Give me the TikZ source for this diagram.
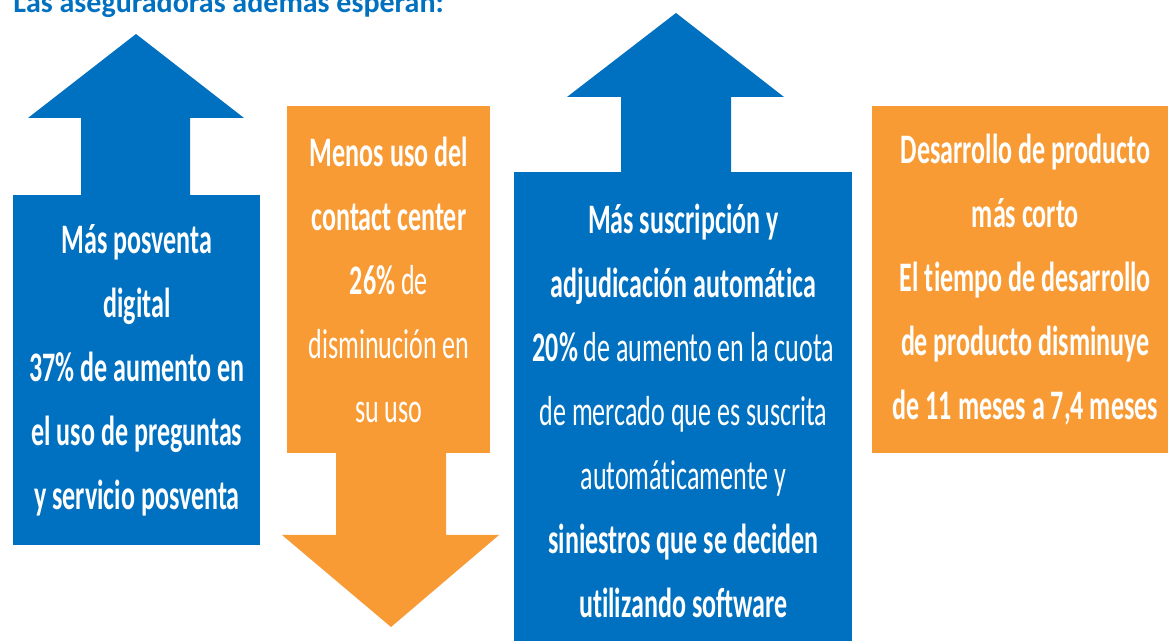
\documentclass[tikz,border=0pt]{standalone}
\usepackage{fontspec}
\setmainfont{Carlito}[FakeStretch=0.62, Ligatures=NoCommon]
\newfontfamily\titlefont{Carlito}[Ligatures=NoCommon]
\definecolor{boxBlue}{HTML}{0070C0}
\definecolor{boxOrange}{HTML}{F99B35}
\definecolor{bgColor}{HTML}{ffffff}
\begin{document}
\begin{tikzpicture}
\tikzset{x=0.5pt,y=-0.5pt}
\tikzset{cell/.style={anchor=north west, inner sep=0pt, align=center, text=white, font=\fontsize{21}{32}\selectfont}}
\clip (0,0) rectangle (1168,641);
\fill[bgColor] (0,0) rectangle (1168,641);
% title, cut at the top
\node[anchor=base west, inner sep=0pt, text=boxBlue, font=\titlefont\bfseries\fontsize{15}{18}\selectfont] (title) at (13,13) {Las aseguradoras además esperan:};
% arrows
\fill[boxBlue] (81,200) -- (81,118) -- (28,118) -- (136,34) -- (244,118) -- (190,118) -- (190,200) -- cycle;
\fill[boxOrange] (336,448) -- (336,535) -- (282,535) -- (391,627) -- (499,535) -- (446,535) -- (446,448) -- cycle;
\fill[boxBlue] (621,177) -- (621,97) -- (567,97) -- (676,13) -- (784,97) -- (731,97) -- (731,177) -- cycle;
% boxes
\node[cell, fill=boxBlue, minimum width=123.5pt, minimum height=175pt] (posventa) at (13,195) {\bfseries Más posventa\\ \bfseries digital\\ \bfseries 37\% de aumento en\\ \bfseries el uso de preguntas\\ \bfseries y servicio posventa};
\node[cell, fill=boxOrange, minimum width=101.5pt, minimum height=173.5pt] (contact) at (287,106) {\textbf{Menos uso del}\\ \textbf{contact center}\\ \textbf{26\%} de\\ disminución en\\ su uso};
\node[cell, fill=boxBlue, minimum width=169pt, minimum height=239pt] (suscripcion) at (514,172) {\textbf{Más suscripción y}\\ \textbf{adjudicación automática}\\ \textbf{20\%} de aumento en la cuota\\ de mercado que es suscrita\\ automáticamente y\\ \textbf{siniestros que se deciden}\\ \textbf{utilizando software}};
\node[cell, fill=boxOrange, minimum width=153pt, minimum height=173.5pt] (producto) at (872,106) {\bfseries Desarrollo de producto\\ \bfseries más corto\\ \bfseries El tiempo de desarrollo\\ \bfseries de producto disminuye\\ \bfseries de 11 meses a 7,4 meses};
\end{tikzpicture}
\end{document}
